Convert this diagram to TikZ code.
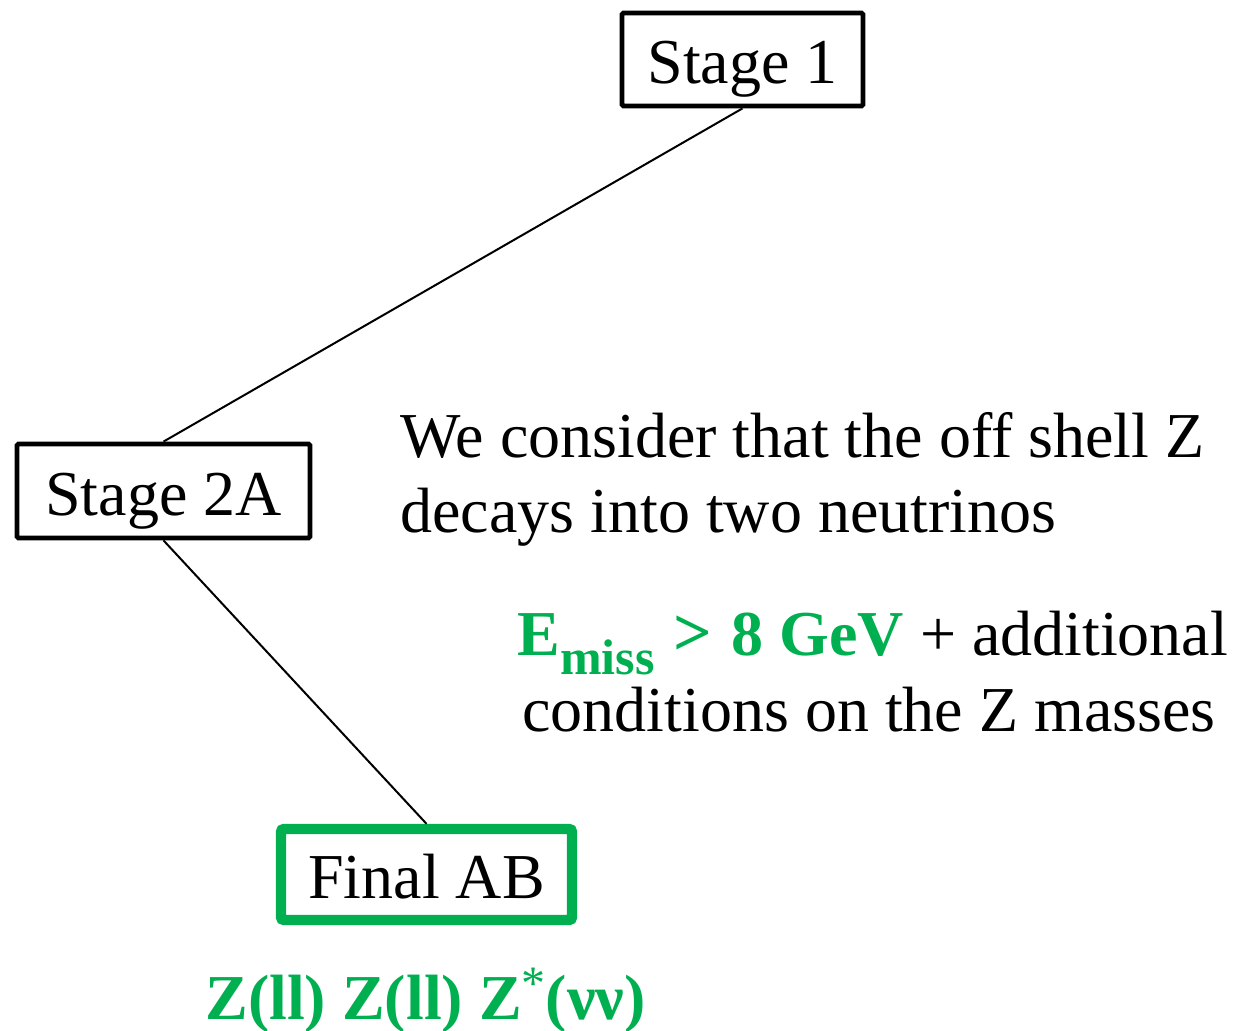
\documentclass[tikz,border=0pt]{standalone}
\usepackage{fontspec}
\setmainfont{Liberation Serif}
\definecolor{okgreen}{HTML}{00B050}
\begin{document}
\begin{tikzpicture}[x=0.5pt,y=-0.5pt,
  stagebox/.style={draw=black, line width=2.4pt, rounded corners=0.8pt, fill=white,
    inner sep=0pt, text height=24pt, text depth=0pt,
    font=\fontsize{32}{38}\selectfont},
  finalbox/.style={stagebox, draw=okgreen, line width=5.2pt, rounded corners=1.5pt},
  link/.style={draw=black, line width=1pt},
  txt/.style={anchor=base west, inner sep=0pt, font=\fontsize{32}{38}\selectfont},
  gtxt/.style={txt, text=okgreen, font=\fontsize{32}{38}\selectfont\bfseries}]
  \useasboundingbox (0,0) rectangle (1240,1031);

  % stage boxes
  \node[stagebox, minimum width=120.5pt, minimum height=46.5pt] (s1) at (742.5,59.5) {Stage 1};
  \node[stagebox, minimum width=146.5pt, minimum height=47pt] (s2) at (163.5,491) {Stage 2A};
  \node[finalbox, minimum width=145.5pt, minimum height=45.5pt] (fab) at (426.5,874.5) {Final AB};

  % connectors
  \draw[link] (s1.south) -- (s2.north);
  \draw[link] (s2.south) -- (fab.north);

  % explanatory text
  \node[txt] (t1) at (400,457) {We consider that the off shell Z};
  \node[txt] (t2) at (400,532) {decays into two neutrinos};
  \node[txt] (t3) at (517,655) {{\color{okgreen}\bfseries E\raisebox{-0.3em}{\fontsize{25}{28}\selectfont miss}\hspace{0.3em}{\fontsize{34}{38}\selectfont >}\hspace{0.3em}8 GeV} + additional};
  \node[txt] (t4) at (522,731) {conditions on the Z masses};

  % final state label
  \node[gtxt] (fs) at (205,1019) {Z(ll) Z(ll) Z\raisebox{0.3em}{\fontsize{24}{26}\selectfont\mdseries *}(νν)};
\end{tikzpicture}
\end{document}
